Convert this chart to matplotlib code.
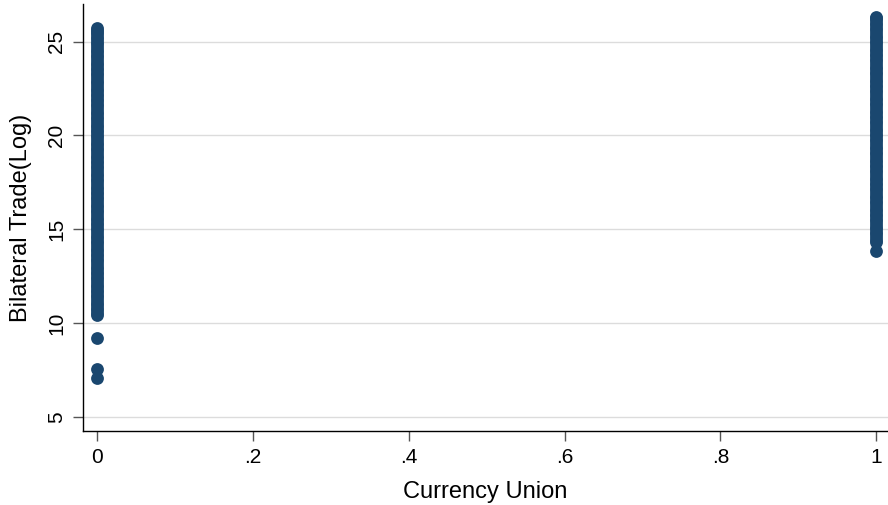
import matplotlib.pyplot as plt

plt.rcParams['font.family'] = ['Liberation Sans', 'DejaVu Sans']

# log bilateral trade for pairs outside / inside a currency union
trade_no_cu = [
    7.11, 7.54, 9.24,
    10.42, 10.55, 10.68, 10.82, 10.95, 11.1, 11.24, 11.38, 11.5, 11.65,
    11.78, 11.92, 12.06, 12.2, 12.33, 12.47, 12.6, 12.74, 12.88, 13.02,
    13.15, 13.3, 13.43, 13.57, 13.7, 13.85, 13.98, 14.12, 14.26, 14.4,
    14.53, 14.67, 14.8, 14.95, 15.08, 15.22, 15.36, 15.5, 15.63, 15.77,
    15.9, 16.05, 16.18, 16.32, 16.46, 16.6, 16.73, 16.87, 17.0, 17.15,
    17.28, 17.42, 17.56, 17.7, 17.83, 17.97, 18.1, 18.25, 18.38, 18.52,
    18.66, 18.8, 18.93, 19.07, 19.2, 19.35, 19.48, 19.62, 19.76, 19.9,
    20.03, 20.17, 20.3, 20.45, 20.58, 20.72, 20.86, 21.0, 21.13, 21.27,
    21.4, 21.55, 21.68, 21.82, 21.96, 22.1, 22.23, 22.37, 22.5, 22.65,
    22.78, 22.92, 23.06, 23.2, 23.33, 23.47, 23.6, 23.75, 23.88, 24.02,
    24.16, 24.3, 24.43, 24.57, 24.7, 24.85, 24.98, 25.12, 25.26, 25.4,
    25.52, 25.64, 25.75,
]
trade_cu = [
    13.87, 14.32, 14.45, 14.6, 14.73, 14.87, 15.0, 15.14, 15.28, 15.42,
    15.55, 15.7, 15.83, 15.97, 16.1, 16.25, 16.38, 16.52, 16.66, 16.8,
    16.93, 17.07, 17.2, 17.35, 17.48, 17.62, 17.76, 17.9, 18.03, 18.17,
    18.3, 18.45, 18.58, 18.72, 18.86, 19.0, 19.13, 19.27, 19.4, 19.55,
    19.68, 19.82, 19.96, 20.1, 20.23, 20.37, 20.5, 20.65, 20.78, 20.92,
    21.06, 21.2, 21.33, 21.47, 21.6, 21.75, 21.88, 22.02, 22.16, 22.3,
    22.43, 22.57, 22.7, 22.85, 22.98, 23.12, 23.26, 23.4, 23.53, 23.67,
    23.8, 23.95, 24.08, 24.22, 24.36, 24.5, 24.63, 24.77, 24.9, 25.05,
    25.18, 25.32, 25.46, 25.6, 25.73, 25.87, 26.0, 26.13, 26.23, 26.3,
]
x_ticks = [0, 0.2, 0.4, 0.6, 0.8, 1]
x_labels = ['0', '.2', '.4', '.6', '.8', '1']
y_ticks = [5, 10, 15, 20, 25]

navy = '#1a476f'

fig = plt.figure(figsize=(8.88, 5.05), dpi=100)
ax = fig.add_axes([0.0935, 0.1465, 0.9065, 0.8455])

ax.scatter([0] * len(trade_no_cu), trade_no_cu, s=85, color=navy, linewidths=0, zorder=3)
ax.scatter([1] * len(trade_cu), trade_cu, s=85, color=navy, linewidths=0, zorder=3)

ax.set_xlim(-0.018, 1.015)
ax.set_ylim(4.26, 27.0)
ax.set_xticks(x_ticks)
ax.set_xticklabels(x_labels)
ax.set_yticks(y_ticks)
ax.set_yticklabels([str(v) for v in y_ticks], rotation=90, va='center')

ax.grid(axis='y', color='#dcdcdc', linewidth=1.0, zorder=0)
ax.set_axisbelow(True)
for side in ['top', 'right']:
    ax.spines[side].set_visible(False)
for side in ['left', 'bottom']:
    ax.spines[side].set_color('black')
    ax.spines[side].set_linewidth(1.0)

ax.tick_params(axis='both', direction='out', length=7, width=1.0, color='#555555',
               labelsize=15, pad=5)

ax.set_xlabel('Currency Union', fontsize=17, labelpad=10)
ax.set_ylabel('Bilateral Trade(Log)', fontsize=17, labelpad=11)

fig.savefig('out.png', dpi=100)
